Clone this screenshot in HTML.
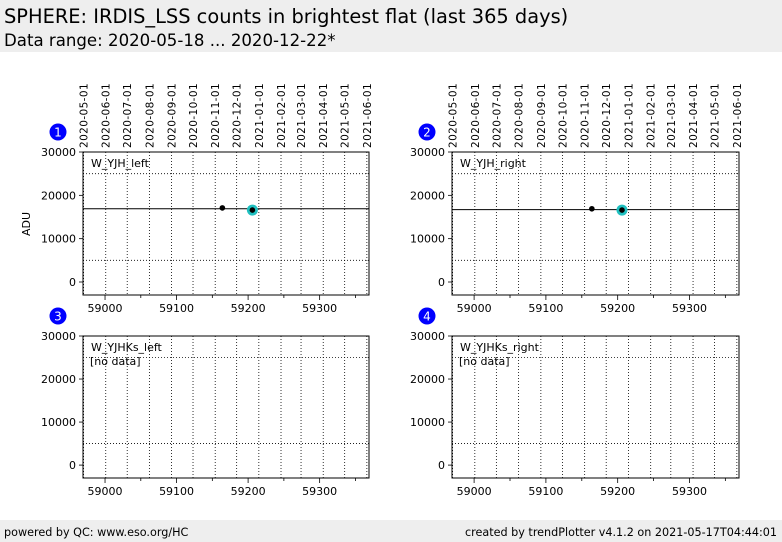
<!DOCTYPE html>
<html><head><meta charset="utf-8"><style>
body{margin:0;width:782px;height:542px;background:#fff;overflow:hidden;font-family:"DejaVu Sans","Liberation Sans",sans-serif}
svg{display:block}
</style></head><body>
<svg id="c" width="782" height="542" font-family="DejaVu Sans, Liberation Sans, sans-serif">
<rect x="0" y="0" width="782" height="52" fill="#eeeeee"/>
<text x="4" y="23" font-size="19.4" fill="#000">SPHERE: IRDIS_LSS counts in brightest flat (last 365 days)</text>
<text x="4" y="46" font-size="16.6" fill="#000">Data range: 2020-05-18 ... 2020-12-22*</text>
<rect x="0" y="520" width="782" height="22" fill="#eeeeee"/>
<text x="4" y="536" font-size="11.2">powered by QC: www.eso.org/HC</text>
<text x="777" y="536" font-size="11.2" text-anchor="end">created by trendPlotter v4.1.2 on 2021-05-17T04:44:01</text>
<text transform="translate(30,224) rotate(-90)" font-size="11" text-anchor="middle">ADU</text>
</svg>
<script>
const panelNames=["W_YJH_left","W_YJH_right","W_YJHKs_left","W_YJHKs_right"];
const monthLabels=["2020-05-01","2020-06-01","2020-07-01","2020-08-01","2020-09-01","2020-10-01","2020-11-01","2020-12-01","2021-01-01","2021-02-01","2021-03-01","2021-04-01","2021-05-01","2021-06-01"];
const monthMJD=[58970,59001,59031,59062,59093,59123,59154,59184,59215,59246,59274,59305,59335,59366];
const xTicks=[59000,59100,59200,59300];
const yTicks=[0,10000,20000,30000];
const refLines=[5000,25000];
const p1x=[59164,59206];
const p1y=[17100,16600];
const p2x=[59164,59206];
const p2y=[16900,16600];
const avg=[16900,16700];
const S="http://www.w3.org/2000/svg";
const svg=document.getElementById('c');
function mk(t,a,parent){const e=document.createElementNS(S,t);for(const k in a)e.setAttribute(k,a[k]);(parent||svg).appendChild(e);return e;}
const panels=[{x0:83,x1:369,y0:152,y1:295,pts:[p1x,p1y],avg:avg[0],lx:58},
{x0:452,x1:739,y0:152,y1:295,pts:[p2x,p2y],avg:avg[1],lx:427},
{x0:83,x1:369,y0:336,y1:478,pts:null,lx:58},
{x0:452,x1:739,y0:336,y1:478,pts:null,lx:427}];
const XMIN=58969.2,XMAX=59369,YMIN=-3000,YMAX=30000;
panels.forEach((p,i)=>{
 const g=mk('g',{});
 
 
 const X=v=>p.x0+(v-XMIN)/(XMAX-XMIN)*(p.x1-p.x0);
 const Y=v=>p.y1-(v-YMIN)/(YMAX-YMIN)*(p.y1-p.y0);
 monthMJD.forEach((m,j)=>{
  const l=mk('line',{x1:X(m),x2:X(m),y1:p.y0,y2:p.y1,stroke:'#000','stroke-width':0.8,'stroke-dasharray':'1,2'},g);
  
  
  if(i<2){const t=mk('text',{transform:`translate(${X(m)+4},148) rotate(-90)`,'font-size':10.5,'letter-spacing':'0.4'},g);t.textContent=monthLabels[j];
   
   }
 });
 refLines.forEach(r=>{const l=mk('line',{x1:p.x0,x2:p.x1,y1:Y(r),y2:Y(r),stroke:'#000','stroke-width':0.8,'stroke-dasharray':'1,2'},g);
  
  });
 for(let m=58950;m<=59370;m+=50){if(m<XMIN||m>XMAX)continue;mk('line',{x1:X(m),x2:X(m),y1:p.y1,y2:p.y1+(m%100===0?5:3),stroke:'#000','stroke-width':0.8},g);}
 xTicks.forEach(v=>{const t=mk('text',{x:X(v),y:p.y1+17,'font-size':11,'text-anchor':'middle'},g);t.textContent=v;
  
  });
 yTicks.forEach(v=>{mk('line',{x1:p.x0-4,x2:p.x0,y1:Y(v),y2:Y(v),stroke:'#000','stroke-width':0.8},g);
  const t=mk('text',{x:p.x0-7,y:Y(v)+4,'font-size':11,'text-anchor':'end'},g);t.textContent=v;
  
  });
 if(p.pts){
  const l=mk('line',{x1:p.x0,x2:p.x1,y1:Y(p.avg),y2:Y(p.avg),stroke:'#000','stroke-width':1},g);
  
  
  const [xs,ys]=p.pts;
  xs.forEach((x,k)=>{
   if(k===xs.length-1){const h=mk('circle',{cx:X(x),cy:Y(ys[k]),r:5.5,fill:'#1fbfbf'},g);
    
    }
   const c=mk('circle',{cx:X(x),cy:Y(ys[k]),r:2.8,fill:'#000'},g);
   
   
  });
 }
 mk('rect',{x:p.x0,y:p.y0,width:p.x1-p.x0,height:p.y1-p.y0,fill:'none',stroke:'#000','stroke-width':1},g);
 const n=mk('text',{x:p.x0+8,y:p.y0+15,'font-size':11},g);n.textContent=panelNames[i];
 
 
 if(!p.pts){const nd=mk('text',{x:p.x0+7,y:p.y0+29,'font-size':11},g);nd.textContent='[no data]';
  
  }
 const by=p.y0-20;
 const b=mk('circle',{cx:p.lx,cy:by,r:8.5,fill:'#0000ff'},g);
 
 
 const bt=mk('text',{x:p.lx,y:by+4.5,'font-size':12,fill:'#fff','text-anchor':'middle'},g);bt.textContent=i+1;
 
 
});
</script>
</body></html>
